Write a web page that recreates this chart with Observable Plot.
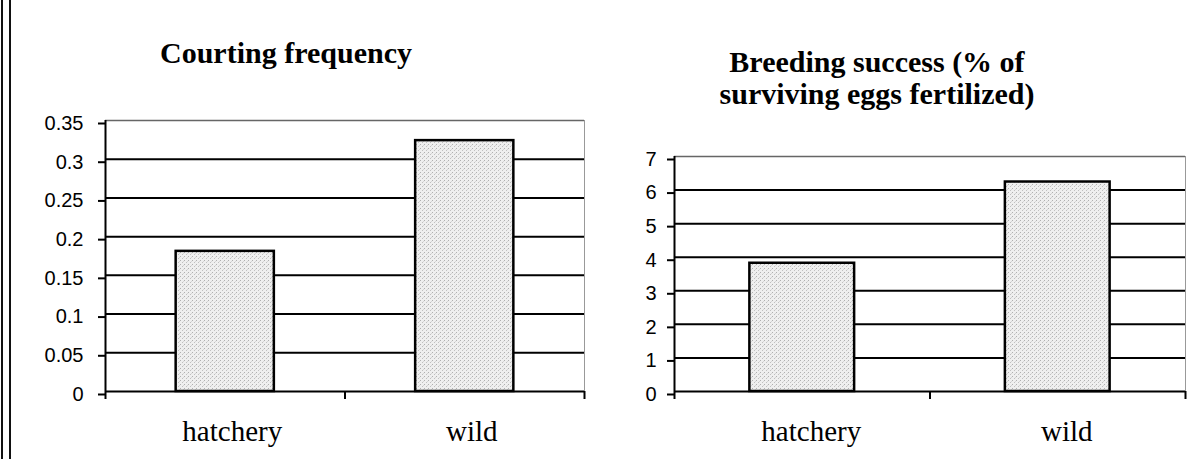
<!DOCTYPE html>
<html>
<head>
<meta charset="utf-8">
<script src="https://cdn.jsdelivr.net/npm/d3@7"></script>
<script src="https://cdn.jsdelivr.net/npm/@observablehq/plot@0.6"></script>
<style>
  html, body { margin: 0; padding: 0; background: #fff; }
  #page { position: relative; width: 1204px; height: 459px; overflow: hidden; background: #fff; }
  .border { position: absolute; top: 0; height: 459px; width: 2px; background: #111; }
  .title { position: absolute; font-family: "Liberation Serif", "Times New Roman", serif; font-weight: bold; font-size: 30px; color: #000; text-align: center; white-space: nowrap; }
  .panel { position: absolute; top: 0; }
</style>
</head>
<body>
<svg width="0" height="0" style="position:absolute">
  <defs>
    <pattern id="stipple" width="4" height="4" patternUnits="userSpaceOnUse">
      <rect width="4" height="4" fill="#efefef"></rect>
      <rect x="0" y="0" width="1" height="1" fill="#b0b0b0"></rect>
      <rect x="2" y="2" width="1" height="1" fill="#c0c0c0"></rect>
      <rect x="3" y="1" width="1" height="1" fill="#d6d6d6"></rect>
    </pattern>
  </defs>
</svg>
<div id="page">
  <div class="border" style="left:1px"></div>
  <div class="border" style="left:9px"></div>
  <div class="title" style="left:86px; width:400px; top:36px; line-height:34px;">Courting frequency</div>
  <div class="title" style="left:677px; width:400px; top:46px; line-height:32px;">Breeding success (% of<br>surviving eggs fertilized)</div>
  <div class="panel" id="left" style="left:0px"></div>
  <div class="panel" id="right" style="left:600px"></div>
</div>
<script>
// ---- data ----
const categories = ["hatchery", "wild"];
const courtingValues = [0.181, 0.324];
const breedingValues = [3.82, 6.24];
const courtingTicks = [0, 0.05, 0.1, 0.15, 0.2, 0.25, 0.3, 0.35];
const breedingTicks = [0, 1, 2, 3, 4, 5, 6, 7];
const categoryBounds = [0, 1, 2];

function panel({values, ticks, width, marginLeft, marginRight, marginTop, tickPadding, labelDx}) {
  const rows = categories.map((c, i) => ({i, c, v: values[i]}));
  const top = ticks[ticks.length - 1];
  const inner = ticks.slice(1, ticks.length - 1);
  return Plot.plot({
    width,
    height: 459,
    marginLeft,
    marginRight,
    marginTop,
    marginBottom: 68,
    x: {domain: [0, 2], axis: null, label: null},
    y: {domain: [0, top], axis: null, label: null},
    style: {background: "transparent", color: "black", overflow: "visible"},
    marks: [
      Plot.ruleY(inner, {stroke: "#000", strokeWidth: 2}),
      Plot.ruleY([top], {stroke: "#666", strokeWidth: 1.5}),
      Plot.ruleX([2], {stroke: "#999", strokeWidth: 1}),
      Plot.rectY(rows, {
        x1: d => d.i + 0.295,
        x2: d => d.i + 0.705,
        y1: 0,
        y2: "v",
        fill: "url(#stipple)",
        stroke: "#000",
        strokeWidth: 2.5
      }),
      Plot.ruleX([0], {stroke: "#000", strokeWidth: 2}),
      Plot.ruleY([0], {stroke: "#000", strokeWidth: 2}),
      Plot.axisY({
        ticks,
        label: null,
        tickSize: 7,
        tickPadding,
        strokeWidth: 2,
        tickFormat: d => String(d),
        fontSize: 20,
        fontFamily: "Liberation Sans, Arial, sans-serif",
        dy: 3
      }),
      Plot.axisX({
        ticks: categoryBounds,
        label: null,
        tickSize: 8,
        strokeWidth: 2,
        tickFormat: () => ""
      }),
      Plot.text(rows, {
        x: d => d.i + 0.5,
        y: 0,
        text: "c",
        dy: 40,
        dx: labelDx,
        fontSize: 29,
        fontFamily: "Liberation Serif, Times New Roman, serif",
        fill: "#000"
      })
    ]
  });
}

document.getElementById("left").append(panel({
  values: courtingValues, ticks: courtingTicks, width: 600,
  marginLeft: 105, marginRight: 16, marginTop: 120, tickPadding: 15, labelDx: 7
}));
document.getElementById("right").append(panel({
  values: breedingValues, ticks: breedingTicks, width: 604,
  marginLeft: 74, marginRight: 19, marginTop: 156, tickPadding: 11, labelDx: 9
}));
</script>
</body>
</html>
